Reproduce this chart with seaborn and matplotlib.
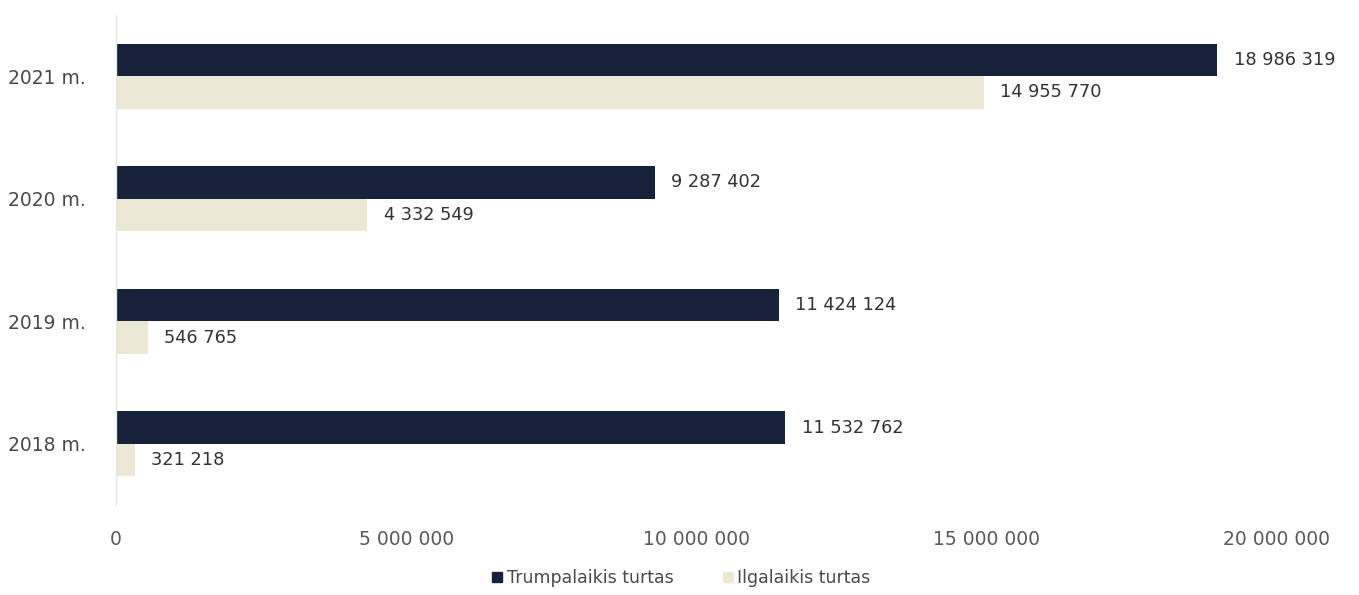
import matplotlib.pyplot as plt
import matplotlib.ticker as mticker
import pandas as pd
import seaborn as sns

## DATA
years = ['2021 m.', '2020 m.', '2019 m.', '2018 m.']
trumpalaikis = [18986319, 9287402, 11424124, 11532762]
ilgalaikis = [14955770, 4332549, 546765, 321218]
series_names = ['Trumpalaikis turtas', 'Ilgalaikis turtas']
x_ticks = [0, 5000000, 10000000, 15000000, 20000000]


def fmt_space(v):
    return f'{int(v):,}'.replace(',', ' ')


df = pd.DataFrame({
    'year': years * 2,
    'value': trumpalaikis + ilgalaikis,
    'series': [series_names[0]] * len(years) + [series_names[1]] * len(years),
})

sns.set_style('white')
plt.rcParams['font.family'] = ['DejaVu Sans']

fig = plt.figure(figsize=(13.59, 5.95), dpi=100)
ax = fig.add_axes([0.0854, 0.151, 0.8536, 0.824])

palette = {series_names[0]: '#17213a', series_names[1]: '#ebe8d5'}
sns.barplot(data=df, x='value', y='year', hue='series', order=years,
            hue_order=series_names, palette=palette, width=0.53,
            saturation=1, linewidth=0, edgecolor='none', ax=ax, legend=True)

# value labels
for container in ax.containers:
    ax.bar_label(container, labels=[fmt_space(b.get_width()) for b in container],
                 padding=12, fontsize=12.8, color='#333333')

ax.set_xlim(0, 20000000)
ax.set_ylim(3.5, -0.5)
ax.set_xticks(x_ticks)
ax.xaxis.set_major_formatter(mticker.FuncFormatter(lambda v, p: fmt_space(v)))
ax.tick_params(axis='x', length=0, pad=18, labelsize=13.5, labelcolor='#5a5a5a')
ax.tick_params(axis='y', length=0, pad=22, labelsize=13.5, labelcolor='#4a4a4a')
ax.set_xlabel(None)
ax.set_ylabel(None)

sns.despine(ax=ax, top=True, right=True, bottom=True)
ax.spines['left'].set_color('#e6e6e6')
ax.spines['left'].set_linewidth(1)

ax.legend_.remove()
markers = [plt.Line2D([], [], marker='s', linestyle='', markersize=7,
                      color=palette[n]) for n in series_names]
fig.legend(markers, series_names, loc='center', bbox_to_anchor=(0.5, 0.028),
           ncol=2, frameon=False, fontsize=12.5, handletextpad=0.05,
           handlelength=1.0, columnspacing=2.6, labelcolor='#4a4a4a')

plt.savefig('out.png', dpi=100)
